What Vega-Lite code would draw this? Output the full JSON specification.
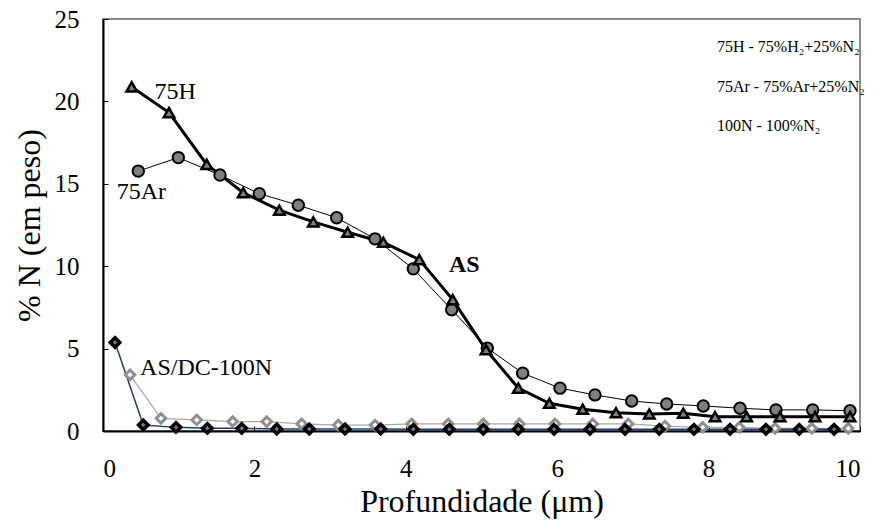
{
  "$schema": "https://vega.github.io/schema/vega-lite/v6.json",
  "width": 757,
  "height": 412,
  "autosize": "none",
  "padding": {"left": 103, "top": 19, "right": 16, "bottom": 94},
  "background": "white",
  "config": {
    "view": {"stroke": "#8c8c8c", "strokeWidth": 2},
    "font": "Liberation Serif",
    "axis": {
      "grid": false,
      "domainColor": "black",
      "domainWidth": 2,
      "tickColor": "black",
      "tickWidth": 1,
      "tickSize": -5,
      "labelColor": "black",
      "labelFont": "Liberation Serif",
      "labelFontSize": 25,
      "titleFont": "Liberation Serif",
      "titleFontWeight": "normal",
      "titleColor": "black",
      "titleFontSize": 32
    }
  },
  "datasets": {
    "pts": [
      {"s": "75Ar", "x": 0.466, "y": 15.77},
      {"s": "75Ar", "x": 0.995, "y": 16.59},
      {"s": "75Ar", "x": 1.546, "y": 15.53},
      {"s": "75Ar", "x": 2.065, "y": 14.40},
      {"s": "75Ar", "x": 2.580, "y": 13.70},
      {"s": "75Ar", "x": 3.087, "y": 12.94},
      {"s": "75Ar", "x": 3.593, "y": 11.66},
      {"s": "75Ar", "x": 4.099, "y": 9.84},
      {"s": "75Ar", "x": 4.606, "y": 7.36},
      {"s": "75Ar", "x": 5.077, "y": 5.03},
      {"s": "75Ar", "x": 5.544, "y": 3.51},
      {"s": "75Ar", "x": 6.037, "y": 2.60},
      {"s": "75Ar", "x": 6.499, "y": 2.19},
      {"s": "75Ar", "x": 6.984, "y": 1.82},
      {"s": "75Ar", "x": 7.446, "y": 1.64},
      {"s": "75Ar", "x": 7.930, "y": 1.52},
      {"s": "75Ar", "x": 8.415, "y": 1.38},
      {"s": "75Ar", "x": 8.890, "y": 1.28},
      {"s": "75Ar", "x": 9.375, "y": 1.28},
      {"s": "75Ar", "x": 9.868, "y": 1.23},
      {"s": "75H", "x": 0.379, "y": 20.88},
      {"s": "75H", "x": 0.872, "y": 19.32},
      {"s": "75H", "x": 1.370, "y": 16.18},
      {"s": "75H", "x": 1.853, "y": 14.46},
      {"s": "75H", "x": 2.329, "y": 13.40},
      {"s": "75H", "x": 2.778, "y": 12.69},
      {"s": "75H", "x": 3.232, "y": 12.06},
      {"s": "75H", "x": 3.703, "y": 11.45},
      {"s": "75H", "x": 4.178, "y": 10.40},
      {"s": "75H", "x": 4.620, "y": 7.97},
      {"s": "75H", "x": 5.060, "y": 4.93},
      {"s": "75H", "x": 5.486, "y": 2.60},
      {"s": "75H", "x": 5.896, "y": 1.68},
      {"s": "75H", "x": 6.337, "y": 1.32},
      {"s": "75H", "x": 6.777, "y": 1.11},
      {"s": "75H", "x": 7.217, "y": 1.03},
      {"s": "75H", "x": 7.666, "y": 1.08},
      {"s": "75H", "x": 8.085, "y": 0.87},
      {"s": "75H", "x": 8.503, "y": 0.87},
      {"s": "75H", "x": 8.943, "y": 0.87},
      {"s": "75H", "x": 9.406, "y": 0.87},
      {"s": "75H", "x": 9.868, "y": 0.87},
      {"s": "100N", "x": 0.159, "y": 5.37},
      {"s": "100N", "x": 0.532, "y": 0.36},
      {"s": "100N", "x": 0.964, "y": 0.22},
      {"s": "100N", "x": 1.378, "y": 0.16},
      {"s": "100N", "x": 1.832, "y": 0.16},
      {"s": "100N", "x": 2.295, "y": 0.12},
      {"s": "100N", "x": 2.725, "y": 0.12},
      {"s": "100N", "x": 3.197, "y": 0.12},
      {"s": "100N", "x": 3.668, "y": 0.12},
      {"s": "100N", "x": 4.099, "y": 0.10},
      {"s": "100N", "x": 4.575, "y": 0.10},
      {"s": "100N", "x": 5.024, "y": 0.10},
      {"s": "100N", "x": 5.486, "y": 0.10},
      {"s": "100N", "x": 5.958, "y": 0.10},
      {"s": "100N", "x": 6.433, "y": 0.10},
      {"s": "100N", "x": 6.896, "y": 0.10},
      {"s": "100N", "x": 7.349, "y": 0.10},
      {"s": "100N", "x": 7.807, "y": 0.10},
      {"s": "100N", "x": 8.283, "y": 0.10},
      {"s": "100N", "x": 8.758, "y": 0.10},
      {"s": "100N", "x": 9.198, "y": 0.10},
      {"s": "100N", "x": 9.657, "y": 0.10},
      {"s": "AS/DC-100N", "x": 0.357, "y": 3.41},
      {"s": "AS/DC-100N", "x": 0.766, "y": 0.77},
      {"s": "AS/DC-100N", "x": 1.238, "y": 0.67},
      {"s": "AS/DC-100N", "x": 1.713, "y": 0.57},
      {"s": "AS/DC-100N", "x": 2.163, "y": 0.57},
      {"s": "AS/DC-100N", "x": 2.625, "y": 0.43},
      {"s": "AS/DC-100N", "x": 3.108, "y": 0.36},
      {"s": "AS/DC-100N", "x": 3.593, "y": 0.36},
      {"s": "AS/DC-100N", "x": 4.078, "y": 0.43},
      {"s": "AS/DC-100N", "x": 4.561, "y": 0.43},
      {"s": "AS/DC-100N", "x": 5.024, "y": 0.43},
      {"s": "AS/DC-100N", "x": 5.500, "y": 0.43},
      {"s": "AS/DC-100N", "x": 5.971, "y": 0.43},
      {"s": "AS/DC-100N", "x": 6.469, "y": 0.43},
      {"s": "AS/DC-100N", "x": 6.939, "y": 0.43},
      {"s": "AS/DC-100N", "x": 7.424, "y": 0.30},
      {"s": "AS/DC-100N", "x": 7.922, "y": 0.22},
      {"s": "AS/DC-100N", "x": 8.405, "y": 0.22},
      {"s": "AS/DC-100N", "x": 8.877, "y": 0.16},
      {"s": "AS/DC-100N", "x": 9.362, "y": 0.16},
      {"s": "AS/DC-100N", "x": 9.845, "y": 0.16}
    ],
    "notes": [
      {"t": "75H", "x": 0.68, "y": 20.6},
      {"t": "75Ar", "x": 0.18, "y": 14.5},
      {"t": "AS/DC-100N", "x": 0.49, "y": 3.83}
    ],
    "bold": [
      {"t": "AS", "x": 4.57, "y": 10.1}
    ],
    "legend": [
      {"t": "75H - 75%H₂+25%N₂", "x": 8.11, "y": 23.3},
      {"t": "75Ar - 75%Ar+25%N₂", "x": 8.11, "y": 20.85},
      {"t": "100N - 100%N₂", "x": 8.11, "y": 18.5}
    ]
  },
  "encoding": {
    "x": {
      "field": "x", "type": "quantitative",
      "scale": {"domain": [0, 10], "nice": false},
      "axis": {"values": [0, 2, 4, 6, 8, 10], "title": "Profundidade (μm)", "labelPadding": 30, "titlePadding": 5}
    },
    "y": {
      "field": "y", "type": "quantitative",
      "scale": {"domain": [0, 25], "nice": false},
      "axis": {"values": [0, 5, 10, 15, 20, 25], "title": "% N (em peso)", "labelPadding": 29, "titlePadding": 8}
    }
  },
  "layer": [
    {"data": {"name": "pts"}, "transform": [{"filter": "datum.s === '75Ar'"}],
     "mark": {"type": "line", "color": "black", "strokeWidth": 1}},
    {"data": {"name": "pts"}, "transform": [{"filter": "datum.s === '75H'"}],
     "mark": {"type": "line", "color": "black", "strokeWidth": 3}},
    {"data": {"name": "pts"}, "transform": [{"filter": "datum.s === 'AS/DC-100N'"}],
     "mark": {"type": "line", "color": "#a8a8a8", "strokeWidth": 1.2}},
    {"data": {"name": "pts"}, "transform": [{"filter": "datum.s === '100N'"}],
     "mark": {"type": "line", "color": "#1f3f78", "strokeWidth": 1.5}},
    {"data": {"name": "pts"}, "transform": [{"filter": "datum.s === 'AS/DC-100N'"}],
     "mark": {"type": "point", "shape": "diamond", "filled": true, "fill": "white", "stroke": "#8f8f8f", "strokeWidth": 3, "size": 90, "opacity": 1}},
    {"data": {"name": "pts"}, "transform": [{"filter": "datum.s === '100N'"}],
     "mark": {"type": "point", "shape": "diamond", "filled": true, "fill": "#777777", "stroke": "black", "strokeWidth": 3.5, "size": 90, "opacity": 1}},
    {"data": {"name": "pts"}, "transform": [{"filter": "datum.s === '75Ar'"}],
     "mark": {"type": "point", "shape": "circle", "filled": true, "fill": "#7f7f7f", "stroke": "black", "strokeWidth": 2, "size": 130, "opacity": 1}},
    {"data": {"name": "pts"}, "transform": [{"filter": "datum.s === '75H'"}],
     "mark": {"type": "point", "shape": "triangle-up", "filled": true, "fill": "#7f7f7f", "stroke": "black", "strokeWidth": 2.5, "size": 110, "opacity": 1}},
    {"data": {"name": "notes"},
     "mark": {"type": "text", "align": "left", "baseline": "middle", "color": "black", "font": "Liberation Serif", "fontSize": 24},
     "encoding": {"text": {"field": "t"}}},
    {"data": {"name": "bold"},
     "mark": {"type": "text", "align": "left", "baseline": "middle", "color": "black", "font": "Liberation Serif", "fontSize": 24, "fontWeight": "bold"},
     "encoding": {"text": {"field": "t"}}},
    {"data": {"name": "legend"},
     "mark": {"type": "text", "align": "left", "baseline": "middle", "color": "black", "font": "Liberation Serif", "fontSize": 16},
     "encoding": {"text": {"field": "t"}}}
  ]
}
